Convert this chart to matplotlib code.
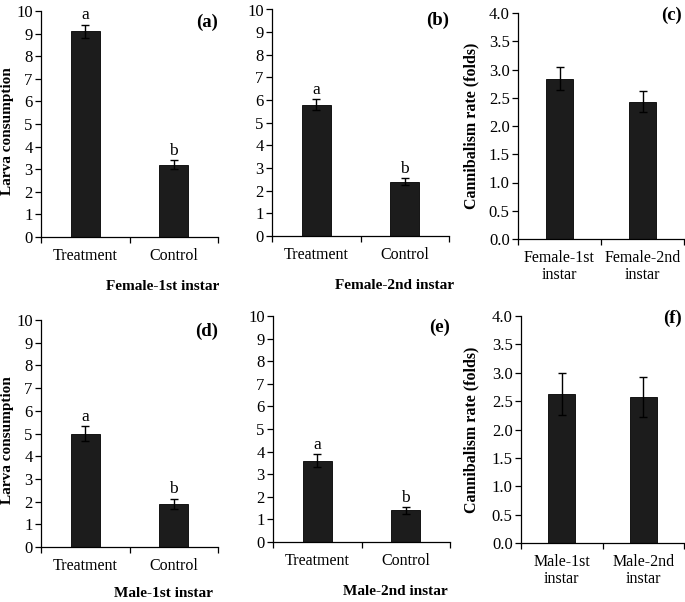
import matplotlib
matplotlib.use("Agg")
import matplotlib.pyplot as plt
from matplotlib.ticker import FixedLocator, MultipleLocator

plt.rcParams['font.family'] = ['Liberation Serif', 'DejaVu Serif']

# ---- data ----
cons_categories = ["Treatment", "Control"]
female1_means = [9.1, 3.2]
female1_err = [0.30, 0.20]
female2_means = [5.8, 2.4]
female2_err = [0.25, 0.16]
male1_means = [5.0, 1.9]
male1_err = [0.33, 0.22]
male2_means = [3.6, 1.4]
male2_err = [0.28, 0.15]
sig_letters = ["a", "b"]

female_rate_categories = ["Female-1st\ninstar", "Female-2nd\ninstar"]
female_rate_means = [2.84, 2.43]
female_rate_err = [0.21, 0.19]
male_rate_categories = ["Male-1st\ninstar", "Male-2nd\ninstar"]
male_rate_means = [2.62, 2.57]
male_rate_err = [0.37, 0.35]

panel_labels = ["(a)", "(b)", "(c)", "(d)", "(e)", "(f)"]
group_titles = ["Female-1st instar", "Female-2nd instar", "Male-1st instar", "Male-2nd instar"]

W, H = 685, 602
fig = plt.figure(figsize=(W / 100, H / 100), dpi=100)


def add_ax(l, r, t, b):
    return fig.add_axes([l / W, 1 - b / H, (r - l) / W, (b - t) / H])


BAR_COLOR = "#1c1c1c"
TICK_FS = 11.5


def style_ax(ax, cats, ymax, ystep, fmt):
    ax.spines['top'].set_visible(False)
    ax.spines['right'].set_visible(False)
    ax.spines['left'].set_linewidth(0.9)
    ax.spines['bottom'].set_linewidth(0.9)
    ax.set_xlim(-0.5, len(cats) - 0.5)
    ax.set_ylim(0, ymax)
    ax.yaxis.set_major_locator(MultipleLocator(ystep))
    ax.yaxis.set_major_formatter(plt.FuncFormatter(lambda v, p: fmt.format(v)))
    ax.set_xticks(range(len(cats)))
    ax.set_xticklabels(cats, fontsize=TICK_FS, linespacing=1.1)
    ax.tick_params(axis='x', which='major', length=0, pad=8)
    ax.xaxis.set_minor_locator(FixedLocator([i - 0.5 for i in range(len(cats) + 1)]))
    ax.tick_params(axis='x', which='minor', length=4, width=0.9, direction='out')
    ax.tick_params(axis='y', which='major', length=4, width=0.9, direction='out',
                   labelsize=TICK_FS + 0.5, pad=2)


def cons_panel(ax, means, errs, label, title, title_y, ylabel):
    x = range(len(cons_categories))
    ax.bar(x, means, width=0.33, color=BAR_COLOR, edgecolor="black", linewidth=0.6)
    ax.errorbar(x, means, yerr=errs, fmt='none', ecolor='black', elinewidth=1.0, capsize=3, capthick=1.0)
    style_ax(ax, cons_categories, 10, 1, "{:.0f}")
    for xi, m, e, s in zip(x, means, errs, sig_letters):
        ax.annotate(s, (xi, m + e), xytext=(0, 1), textcoords='offset points',
                    ha='center', va='bottom', fontsize=12.5)
    ax.text(1.0, 0.99, label, transform=ax.transAxes, ha='right', va='top',
            fontsize=13.5, fontweight='bold')
    ax.text(0.69, title_y, title, transform=ax.transAxes, ha='center', va='center',
            fontsize=11, fontweight='bold')
    if ylabel:
        ax.set_ylabel("Larva consumption", fontsize=11, fontweight='bold')
        ax.yaxis.set_label_coords(-0.15, 0.47)


def rate_panel(ax, cats, means, errs, label, lab_x):
    x = range(len(cats))
    ax.bar(x, means, width=0.33, color=BAR_COLOR, edgecolor="black", linewidth=0.6)
    ax.errorbar(x, means, yerr=errs, fmt='none', ecolor='black', elinewidth=1.0, capsize=3, capthick=1.0)
    style_ax(ax, cats, 4.0, 0.5, "{:.1f}")
    ax.text(0.99, 1.03, label, transform=ax.transAxes, ha='right', va='top',
            fontsize=13.5, fontweight='bold')
    ax.set_ylabel("Cannibalism rate (folds)", fontsize=11.5, fontweight='bold')
    ax.yaxis.set_label_coords(lab_x, 0.5)


ax_a = add_ax(41, 218, 11, 237)
ax_b = add_ax(272, 449, 9.5, 236)
ax_c = add_ax(518, 684, 13, 239)
ax_d = add_ax(41, 218, 320, 547)
ax_e = add_ax(273, 450, 316, 542)
ax_f = add_ax(521, 684, 316, 543)

cons_panel(ax_a, female1_means, female1_err, panel_labels[0], group_titles[0], -0.22, True)
cons_panel(ax_b, female2_means, female2_err, panel_labels[1], group_titles[1], -0.22, False)
rate_panel(ax_c, female_rate_categories, female_rate_means, female_rate_err, panel_labels[2], -0.235)
cons_panel(ax_d, male1_means, male1_err, panel_labels[3], group_titles[2], -0.205, True)
cons_panel(ax_e, male2_means, male2_err, panel_labels[4], group_titles[3], -0.22, False)
rate_panel(ax_f, male_rate_categories, male_rate_means, male_rate_err, panel_labels[5], -0.255)

fig.savefig("out.png", dpi=100, facecolor="white")
